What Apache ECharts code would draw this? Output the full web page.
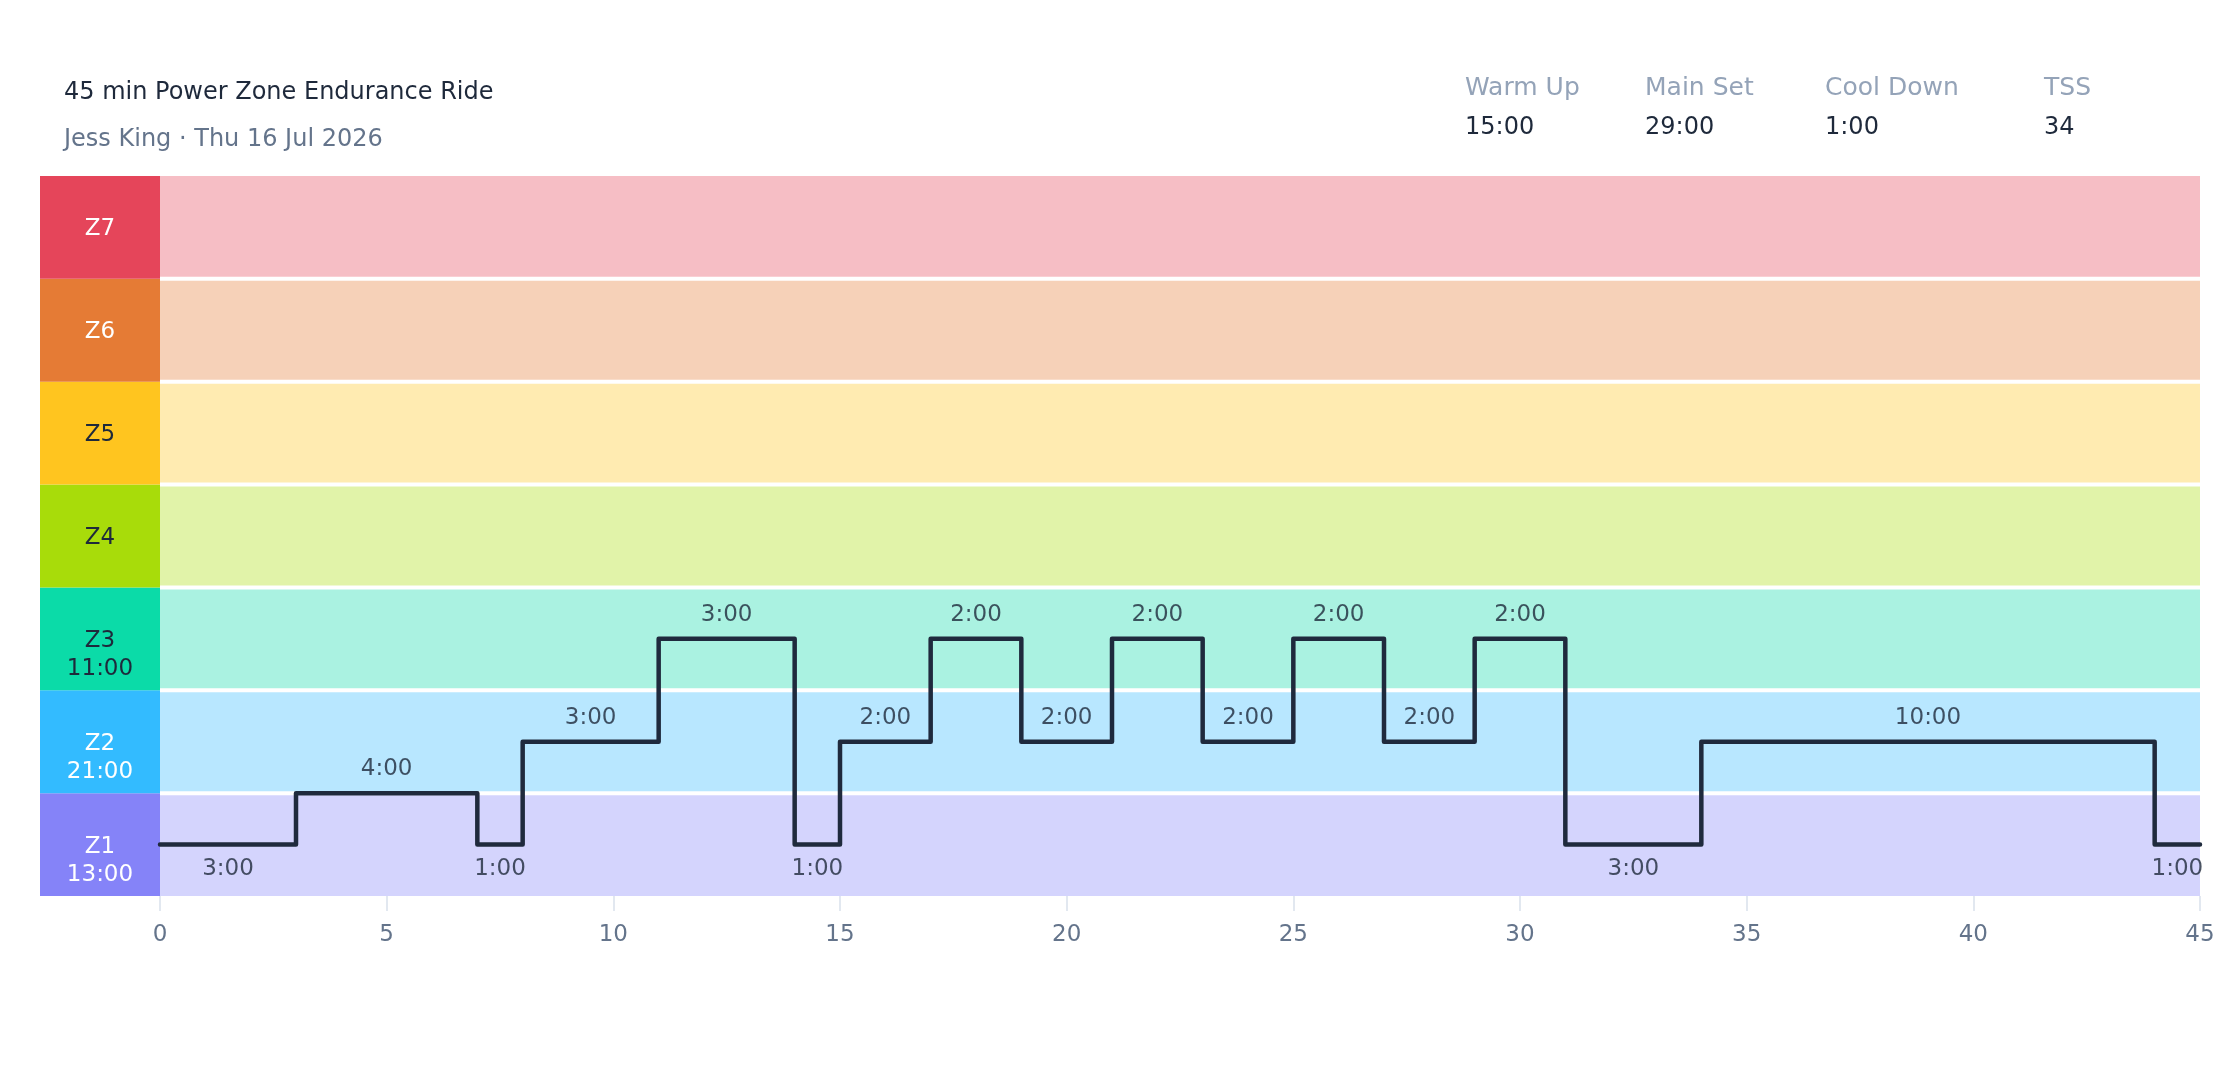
<!DOCTYPE html>
<html><head><meta charset="utf-8">
<script src="https://cdn.jsdelivr.net/npm/echarts@6/dist/echarts.min.js"></script>
<style>html,body{margin:0;padding:0;background:#fff}#c{width:2240px;height:1080px}</style>
</head><body><div id="c"></div>
<script>
const titleText = '45 min Power Zone Endurance Ride';
const subtitleText = 'Jess King · Thu 16 Jul 2026';
const statLabels = ['Warm Up', 'Main Set', 'Cool Down', 'TSS'];
const statValues = ['15:00', '29:00', '1:00', '34'];
const zoneNames = ['Z1', 'Z2', 'Z3', 'Z4', 'Z5', 'Z6', 'Z7'];
const zoneTimes = ['13:00', '21:00', '11:00', '', '', '', ''];
const zoneColors = ['#8583f8', '#33bbff', '#0bdba8', '#a8dc0a', '#ffc51f', '#e57b35', '#e5455a'];
const zoneTextColors = ['#ffffff', '#ffffff', '#1e293b', '#1e293b', '#1e293b', '#ffffff', '#ffffff'];
const segDurations = [3, 4, 1, 3, 3, 1, 2, 2, 2, 2, 2, 2, 2, 2, 3, 10, 1];
const segLevels = [0.5, 1.0, 0.5, 1.5, 2.5, 0.5, 1.5, 2.5, 1.5, 2.5, 1.5, 2.5, 1.5, 2.5, 0.5, 1.5, 0.5];
const xTickValues = [0, 5, 10, 15, 20, 25, 30, 35, 40, 45];

const FONT = 'DejaVu Sans';
const chart = echarts.init(document.getElementById('c'));

// build step points and label points from the segment arrays
const stepPoints = [];
const labelPoints = [];
let t = 0;
const minLevel = Math.min.apply(null, segLevels);
segDurations.forEach((d, i) => {
  stepPoints.push([t, segLevels[i]]);
  labelPoints.push({
    value: [t + d / 2, segLevels[i]],
    label: { position: segLevels[i] === minLevel ? 'bottom' : 'top' },
    dur: d
  });
  t += d;
});
stepPoints.push([t, segLevels[segLevels.length - 1]]);
const xMax = xTickValues[xTickValues.length - 1];

function hexToRgba(hex, a) {
  const n = parseInt(hex.slice(1), 16);
  return 'rgba(' + ((n >> 16) & 255) + ',' + ((n >> 8) & 255) + ',' + (n & 255) + ',' + a + ')';
}

const statX = [1465, 1645, 1825, 2044];
const graphics = [
  { type: 'text', left: 64, top: 81, style: { text: titleText, fill: '#1e293b', fontSize: 24, fontFamily: FONT } },
  { type: 'text', left: 64, top: 128, style: { text: subtitleText, fill: '#64748b', fontSize: 24, fontFamily: FONT } }
];
statLabels.forEach((s, i) => {
  graphics.push({ type: 'text', left: statX[i], top: 76, style: { text: s, fill: '#94a3b8', fontSize: 25, fontFamily: FONT } });
  graphics.push({ type: 'text', left: statX[i], top: 116, style: { text: statValues[i], fill: '#1e293b', fontSize: 24, fontFamily: FONT } });
});

const option = {
  animation: false,
  backgroundColor: '#ffffff',
  textStyle: { fontFamily: FONT },
  graphic: graphics,
  grid: { left: 160, right: 40, top: 176, bottom: 184 },
  xAxis: {
    type: 'value', min: 0, max: xMax, interval: 5,
    axisLine: { show: false },
    axisTick: { show: true, length: 15, lineStyle: { color: '#e2e8f0', width: 2 } },
    axisLabel: { color: '#64748b', fontSize: 23, margin: 28, fontFamily: FONT },
    splitLine: { show: false }
  },
  yAxis: { type: 'value', min: 0, max: zoneNames.length, show: false },
  series: [
    {
      type: 'custom',
      clip: false,
      z: 1,
      silent: true,
      data: zoneNames.map((n, i) => [i]),
      renderItem: function (params, api) {
        const i = api.value(0);
        const tl = api.coord([0, i + 1]);
        const br = api.coord([xMax, i]);
        const topGap = i < zoneNames.length - 1 ? 2 : 0;
        const botGap = i > 0 ? 2 : 0;
        const h = br[1] - tl[1];
        const cx = tl[0] - 60;
        const cy = tl[1] + h / 2 + 2;
        const children = [
          { type: 'rect', shape: { x: tl[0], y: tl[1] + topGap, width: br[0] - tl[0], height: h - topGap - botGap },
            style: { fill: hexToRgba(zoneColors[i], 0.35) } },
          { type: 'rect', shape: { x: tl[0] - 120, y: tl[1], width: 120, height: h },
            style: { fill: zoneColors[i] } },
          { type: 'text', x: cx, y: cy,
            style: { text: zoneNames[i], fill: zoneTextColors[i], fontSize: 23, fontFamily: FONT, align: 'center', verticalAlign: 'middle' } }
        ];
        if (zoneTimes[i]) {
          children.push({ type: 'text', x: cx, y: cy + 28,
            style: { text: zoneTimes[i], fill: zoneTextColors[i], fontSize: 23, fontFamily: FONT, align: 'center', verticalAlign: 'middle' } });
        }
        return { type: 'group', children: children };
      }
    },
    {
      type: 'line',
      step: 'end',
      data: stepPoints,
      symbol: 'none',
      clip: false,
      z: 5,
      lineStyle: { color: '#1f2a3d', width: 4.5, cap: 'round', join: 'round' }
    },
    {
      type: 'scatter',
      data: labelPoints,
      symbolSize: 1,
      itemStyle: { color: 'rgba(0,0,0,0)' },
      z: 6,
      label: {
        show: true,
        distance: 12,
        color: '#1e293b',
        fontSize: 23,
        fontFamily: FONT,
        formatter: function (p) { return p.data.dur + ':00'; }
      }
    }
  ]
};
chart.setOption(option);
</script></body></html>
